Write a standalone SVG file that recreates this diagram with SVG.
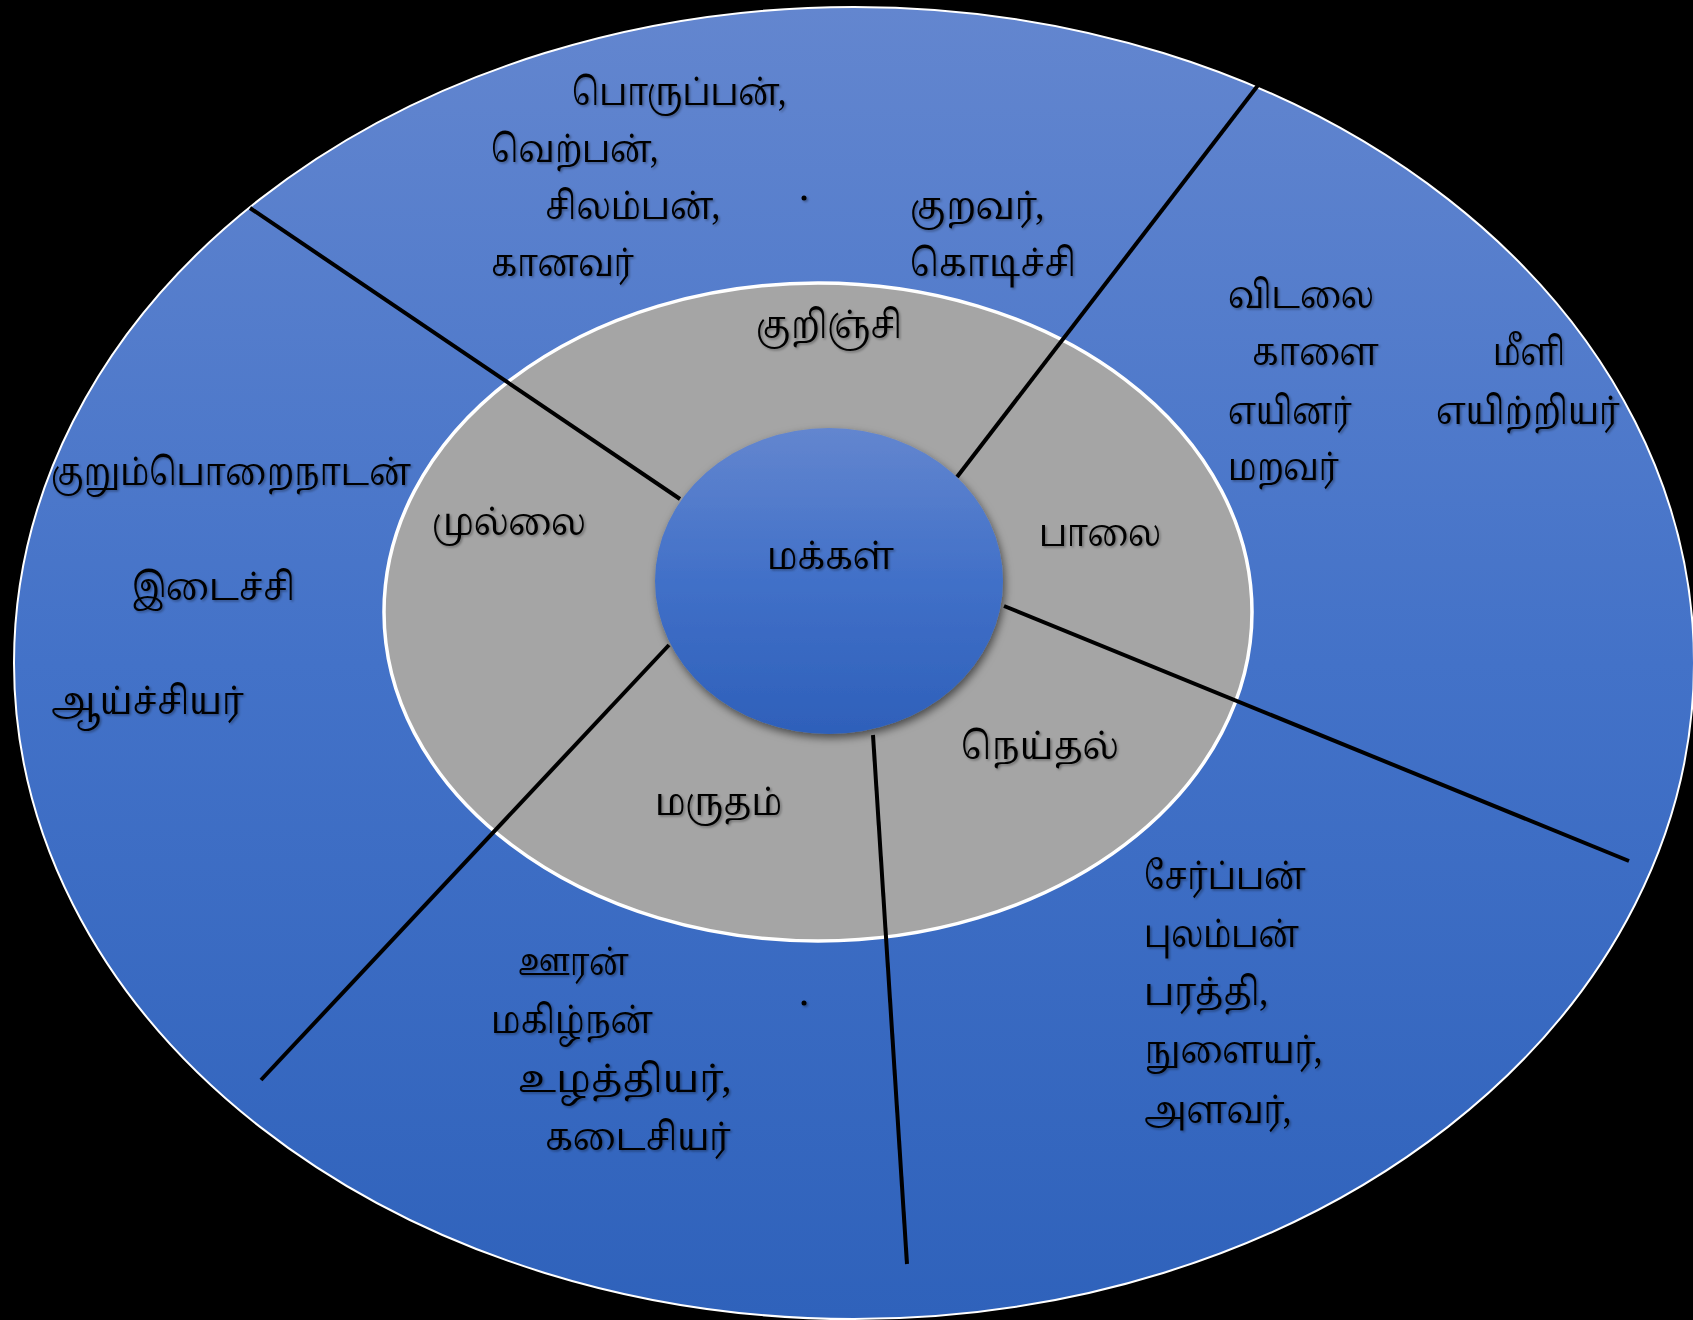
<svg xmlns="http://www.w3.org/2000/svg" width="1693" height="1320" viewBox="0 0 1693 1320">
  <defs>
    <linearGradient id="gOuter" x1="0" y1="0" x2="0" y2="1">
      <stop offset="0" stop-color="#6386cf"/>
      <stop offset="0.5" stop-color="#4372c8"/>
      <stop offset="1" stop-color="#2f62bb"/>
    </linearGradient>
    <linearGradient id="gCenter" x1="0" y1="0" x2="0" y2="1">
      <stop offset="0" stop-color="#6386cf"/>
      <stop offset="0.5" stop-color="#4170c8"/>
      <stop offset="1" stop-color="#2e60ba"/>
    </linearGradient>
    <filter id="shadow" x="-20%" y="-20%" width="140%" height="140%">
      <feDropShadow dx="2" dy="4" stdDeviation="4" flood-color="#000" flood-opacity="0.55"/>
    </filter>
    <filter id="tshadow" x="-10%" y="-20%" width="120%" height="150%">
      <feDropShadow dx="1.5" dy="1.5" stdDeviation="1" flood-color="#000" flood-opacity="0.35"/>
    </filter>
  </defs>
  <style>
    .t { font-family: "Noto Serif Tamil", "Latha", "Nirmala UI", "Noto Sans Tamil", "Lohit Tamil", serif; font-size: 38px; fill: #000; }
    .line { stroke: #000; stroke-width: 4; fill: none; }
  </style>
  <rect x="0" y="0" width="1693" height="1320" fill="#000"/>

  <g id="outer-ring">
    <ellipse cx="854" cy="663" rx="840" ry="656" fill="url(#gOuter)" stroke="#ffffff" stroke-width="2"/>
  </g>
  <g id="inner-ring">
    <ellipse cx="818" cy="612" rx="434" ry="329" fill="#a5a5a5" stroke="#ffffff" stroke-width="3.5"/>
  </g>

  <g id="connectors">
    <line class="line" x1="250" y1="208" x2="680" y2="499"/>
    <line class="line" x1="1259" y1="84" x2="957" y2="477"/>
    <line class="line" x1="1004" y1="606" x2="1629" y2="861"/>
    <line class="line" x1="873" y1="735" x2="907" y2="1264"/>
    <line class="line" x1="669" y1="645" x2="261" y2="1080"/>
  </g>

  <g id="center">
    <ellipse cx="829" cy="581" rx="174" ry="153" fill="url(#gCenter)" filter="url(#shadow)"/>
    <text class="t" x="767" y="569" textLength="127" lengthAdjust="spacingAndGlyphs" filter="url(#tshadow)">மக்கள்</text>
  </g>

  <g id="kurinji" filter="url(#tshadow)">
    <text class="t" x="756" y="338" textLength="146" lengthAdjust="spacingAndGlyphs">குறிஞ்சி</text>
    <text class="t" x="572" y="105" textLength="214" lengthAdjust="spacingAndGlyphs">பொருப்பன்,</text>
    <text class="t" x="491" y="162" textLength="167" lengthAdjust="spacingAndGlyphs">வெற்பன்,</text>
    <text class="t" x="545" y="219" textLength="175" lengthAdjust="spacingAndGlyphs">சிலம்பன்,</text>
    <text class="t" x="491" y="276" textLength="143" lengthAdjust="spacingAndGlyphs">கானவர்</text>
    <text class="t" x="910" y="219" textLength="134" lengthAdjust="spacingAndGlyphs">குறவர்,</text>
    <text class="t" x="910" y="276" textLength="166" lengthAdjust="spacingAndGlyphs">கொடிச்சி</text>
    <circle cx="804" cy="198" r="2.5" fill="#000"/>
  </g>

  <g id="paalai" filter="url(#tshadow)">
    <text class="t" x="1039" y="546" textLength="122" lengthAdjust="spacingAndGlyphs">பாலை</text>
    <text class="t" x="1228" y="308" textLength="146" lengthAdjust="spacingAndGlyphs">விடலை</text>
    <text class="t" x="1252" y="365" textLength="127" lengthAdjust="spacingAndGlyphs">காளை</text>
    <text class="t" x="1493" y="365" textLength="72" lengthAdjust="spacingAndGlyphs">மீளி</text>
    <text class="t" x="1228" y="424" textLength="124" lengthAdjust="spacingAndGlyphs">எயினர்</text>
    <text class="t" x="1436" y="424" textLength="184" lengthAdjust="spacingAndGlyphs">எயிற்றியர்</text>
    <text class="t" x="1228" y="480" textLength="111" lengthAdjust="spacingAndGlyphs">மறவர்</text>
  </g>

  <g id="mullai" filter="url(#tshadow)">
    <text class="t" x="432" y="535" textLength="154" lengthAdjust="spacingAndGlyphs">முல்லை</text>
    <text class="t" x="51" y="485" textLength="360" lengthAdjust="spacingAndGlyphs">குறும்பொறைநாடன்</text>
    <text class="t" x="132" y="600" textLength="163" lengthAdjust="spacingAndGlyphs">இடைச்சி</text>
    <text class="t" x="51" y="714" textLength="193" lengthAdjust="spacingAndGlyphs">ஆய்ச்சியர்</text>
  </g>

  <g id="marutham" filter="url(#tshadow)">
    <text class="t" x="655" y="815" textLength="127" lengthAdjust="spacingAndGlyphs">மருதம்</text>
    <text class="t" x="518" y="975" textLength="111" lengthAdjust="spacingAndGlyphs">ஊரன்</text>
    <text class="t" x="491" y="1033" textLength="162" lengthAdjust="spacingAndGlyphs">மகிழ்நன்</text>
    <text class="t" x="518" y="1092" textLength="213" lengthAdjust="spacingAndGlyphs">உழத்தியர்,</text>
    <text class="t" x="545" y="1150" textLength="186" lengthAdjust="spacingAndGlyphs">கடைசியர்</text>
    <circle cx="804" cy="1003" r="2.5" fill="#000"/>
  </g>

  <g id="neithal" filter="url(#tshadow)">
    <text class="t" x="961" y="759" textLength="158" lengthAdjust="spacingAndGlyphs">நெய்தல்</text>
    <text class="t" x="1144" y="889" textLength="162" lengthAdjust="spacingAndGlyphs">சேர்ப்பன்</text>
    <text class="t" x="1144" y="947" textLength="155" lengthAdjust="spacingAndGlyphs">புலம்பன்</text>
    <text class="t" x="1144" y="1005" textLength="124" lengthAdjust="spacingAndGlyphs">பரத்தி,</text>
    <text class="t" x="1144" y="1063" textLength="178" lengthAdjust="spacingAndGlyphs">நுளையர்,</text>
    <text class="t" x="1144" y="1123" textLength="147" lengthAdjust="spacingAndGlyphs">அளவர்,</text>
  </g>
</svg>
